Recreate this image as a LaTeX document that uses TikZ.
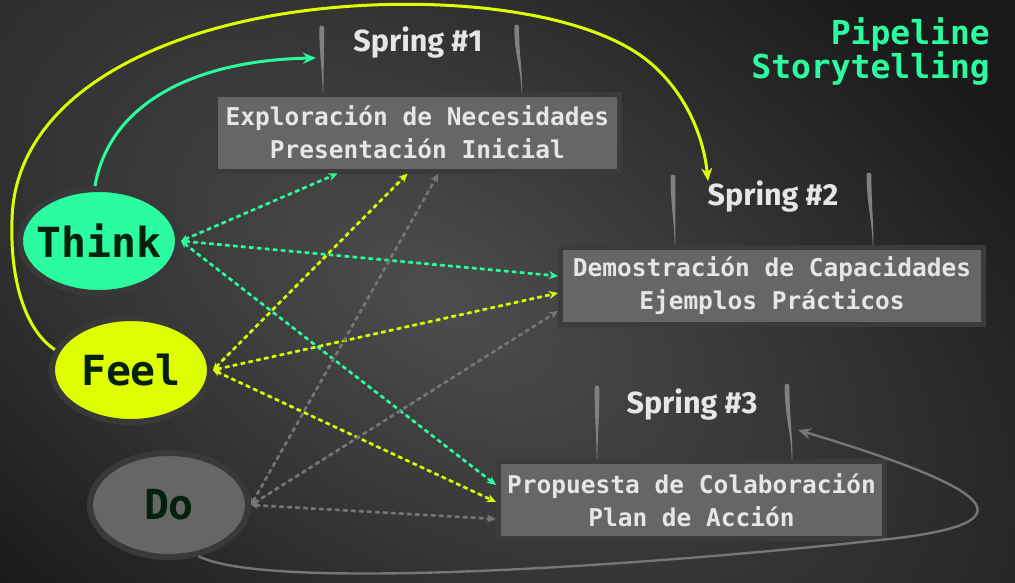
\documentclass[tikz,border=0pt]{standalone}
\usepackage{fontspec}
\setmainfont{DejaVu Sans}
\newfontfamily\monof{DejaVu Sans Mono}
\newfontfamily\springf{Fira Sans}
\usetikzlibrary{arrows.meta,shapes.geometric}
\definecolor{thinkc}{HTML}{2BFC9F}
\definecolor{feelc}{HTML}{DDFF00}
\definecolor{doc}{HTML}{666666}
\definecolor{ringc}{HTML}{393939}
\definecolor{boxc}{HTML}{666666}
\definecolor{boxb}{HTML}{3B3B3B}
\definecolor{boxt}{HTML}{E6E6E6}
\definecolor{inkc}{HTML}{06200F}
\definecolor{barc}{HTML}{808080}
\definecolor{grayln}{HTML}{767676}
\definecolor{bgin}{HTML}{4D4D4D}
\definecolor{bgout}{HTML}{1A1A1A}
\pgfdeclareradialshading{bgshade}{\pgfpoint{0bp}{0bp}}{color(0bp)=(bgin); color(100bp)=(bgout); color(200bp)=(bgout)}
\newcommand\sbarpath[4]{\fill[barc] ({#1-2.4},#2) .. controls ({#1-2.3},{#2+30}) and ({#3-0.7},{#4-25}) .. ({#3-0.3},#4) -- ({#3+0.3},#4) .. controls ({#3+0.7},{#4-25}) and ({#1+2.3},{#2+30}) .. ({#1+2.4},#2) .. controls ({#1+2.4},{#2-3.2}) and ({#1-2.4},{#2-3.2}) .. cycle;}
\begin{document}
\begin{tikzpicture}[x=1pt,y=-1pt,
  persona/.style={ellipse, draw=ringc, line width=6pt, minimum width=158pt, minimum height=104pt, inner sep=0pt},
  personatext/.style={text=inkc, font=\monof\bfseries\fontsize{41.5}{45}\selectfont, inner sep=0pt},
  stagebox/.style={rectangle, fill=boxc, draw=boxb, line width=5pt, minimum height=77pt, inner sep=0pt, align=center, text=boxt, font=\monof\bfseries\fontsize{24.5}{33}\selectfont},
  springlbl/.style={text=boxt, font=\springf\bfseries\fontsize{30.5}{34}\selectfont, inner sep=0pt},
  flow/.style={dash pattern=on 4.5pt off 3.5pt, line width=2.7pt, {Stealth[length=7pt,width=7pt]}-{Stealth[length=9pt,width=8pt]}},
  flowg/.style={flow, draw=thinkc, fill=thinkc},
  flowy/.style={flow, draw=feelc, fill=feelc},
  flowd/.style={flow, draw=grayln, fill=grayln},
  bigarrow/.style={line width=3pt, -{Stealth[length=13pt,width=11pt]}}
]
\useasboundingbox (0,0) rectangle (1015,582);
% background
\fill[bgout] (0,0) rectangle (1015,582);
\begin{scope}
  \clip (0,0) rectangle (1015,582);
  \begin{pgfscope}
    \pgftransformshift{\pgfpoint{440pt}{-300pt}}
    \pgftransformrotate{-30}
    \pgftransformxscale{8.5}
    \pgftransformyscale{4.8}
    \pgflowlevelsynccm
    \pgfuseshading{bgshade}
  \end{pgfscope}
\end{scope}

% spring bars
\sbarpath{321.7}{28}{323}{93}
\sbarpath{516.7}{27}{521.7}{92}
\sbarpath{673}{177}{675}{246}
\sbarpath{869}{175}{873}{246}
\sbarpath{597}{388}{597}{459}
\sbarpath{787}{386}{792}{459}

% persona ellipses
\node[persona, fill=thinkc, label={[personatext]center:Think}] (think) at (99,241) {};
\node[persona, fill=feelc, label={[personatext]center:Feel}] (feel) at (131,370) {};
\node[persona, fill=doc, label={[personatext]center:Do}] (do) at (169,505) {};

% stage boxes
\node[stagebox, minimum width=404pt] (box1) at (417.5,132.5) {Exploración de Necesidades\\Presentación Inicial};
\node[stagebox, minimum width=423pt] (box2) at (772,286) {Demostración de Capacidades\\Ejemplos Prácticos};
\node[stagebox, minimum width=386pt] (box3) at (691.5,500) {Propuesta de Colaboración\\Plan de Acción};

% spring labels
\node[springlbl] (s1) at (418,43) {Spring \#1};
\node[springlbl] (s2) at (773,197) {Spring \#2};
\node[springlbl] (s3) at (692,405) {Spring \#3};

% title
\node[anchor=north east, align=right, text=thinkc, inner sep=0pt, font=\monof\bfseries\fontsize{33}{33}\selectfont] (title) at (990,17) {Pipeline\\Storytelling};

% arrow targets
\coordinate (s1in) at (316,58);
\coordinate (s2in) at (708,181);
\coordinate (s3in) at (798,430);

% solid curves
\draw[bigarrow, draw=thinkc] ([xshift=-4pt]think.north) .. controls (110,100) and (200,60) .. (s1in);
\draw[bigarrow, draw=feelc] (feel.165) .. controls (25,330) and (10,280) .. (12,220) .. controls (14,120) and (110,50) .. (250,20) .. controls (380,-8) and (560,0) .. (640,55) .. controls (680,83) and (703,130) .. (s2in);
\draw[bigarrow, draw=grayln, line width=2.4pt] (do.-60) .. controls (270,592) and (650,565) .. (880,540) .. controls (1025,525) and (1015,495) .. (s3in);

% dashed flows
\draw[flowg] (think.east) -- ([xshift=-80pt]box1.south);
\draw[flowg] (think.east) -- ([yshift=10pt]box2.west);
\draw[flowg] (think.east) -- ([yshift=15pt]box3.west);
\draw[flowy] (feel.east) -- ([xshift=-10pt]box1.south);
\draw[flowy] (feel.east) -- ([yshift=-7pt]box2.west);
\draw[flowy] (feel.east) -- ([yshift=-2pt]box3.west);
\draw[flowd] (do.east) -- ([xshift=21pt]box1.south);
\draw[flowd] (do.east) -- ([yshift=-25pt]box2.west);
\draw[flowd] (do.east) -- ([yshift=-19pt]box3.west);
\end{tikzpicture}
\end{document}
